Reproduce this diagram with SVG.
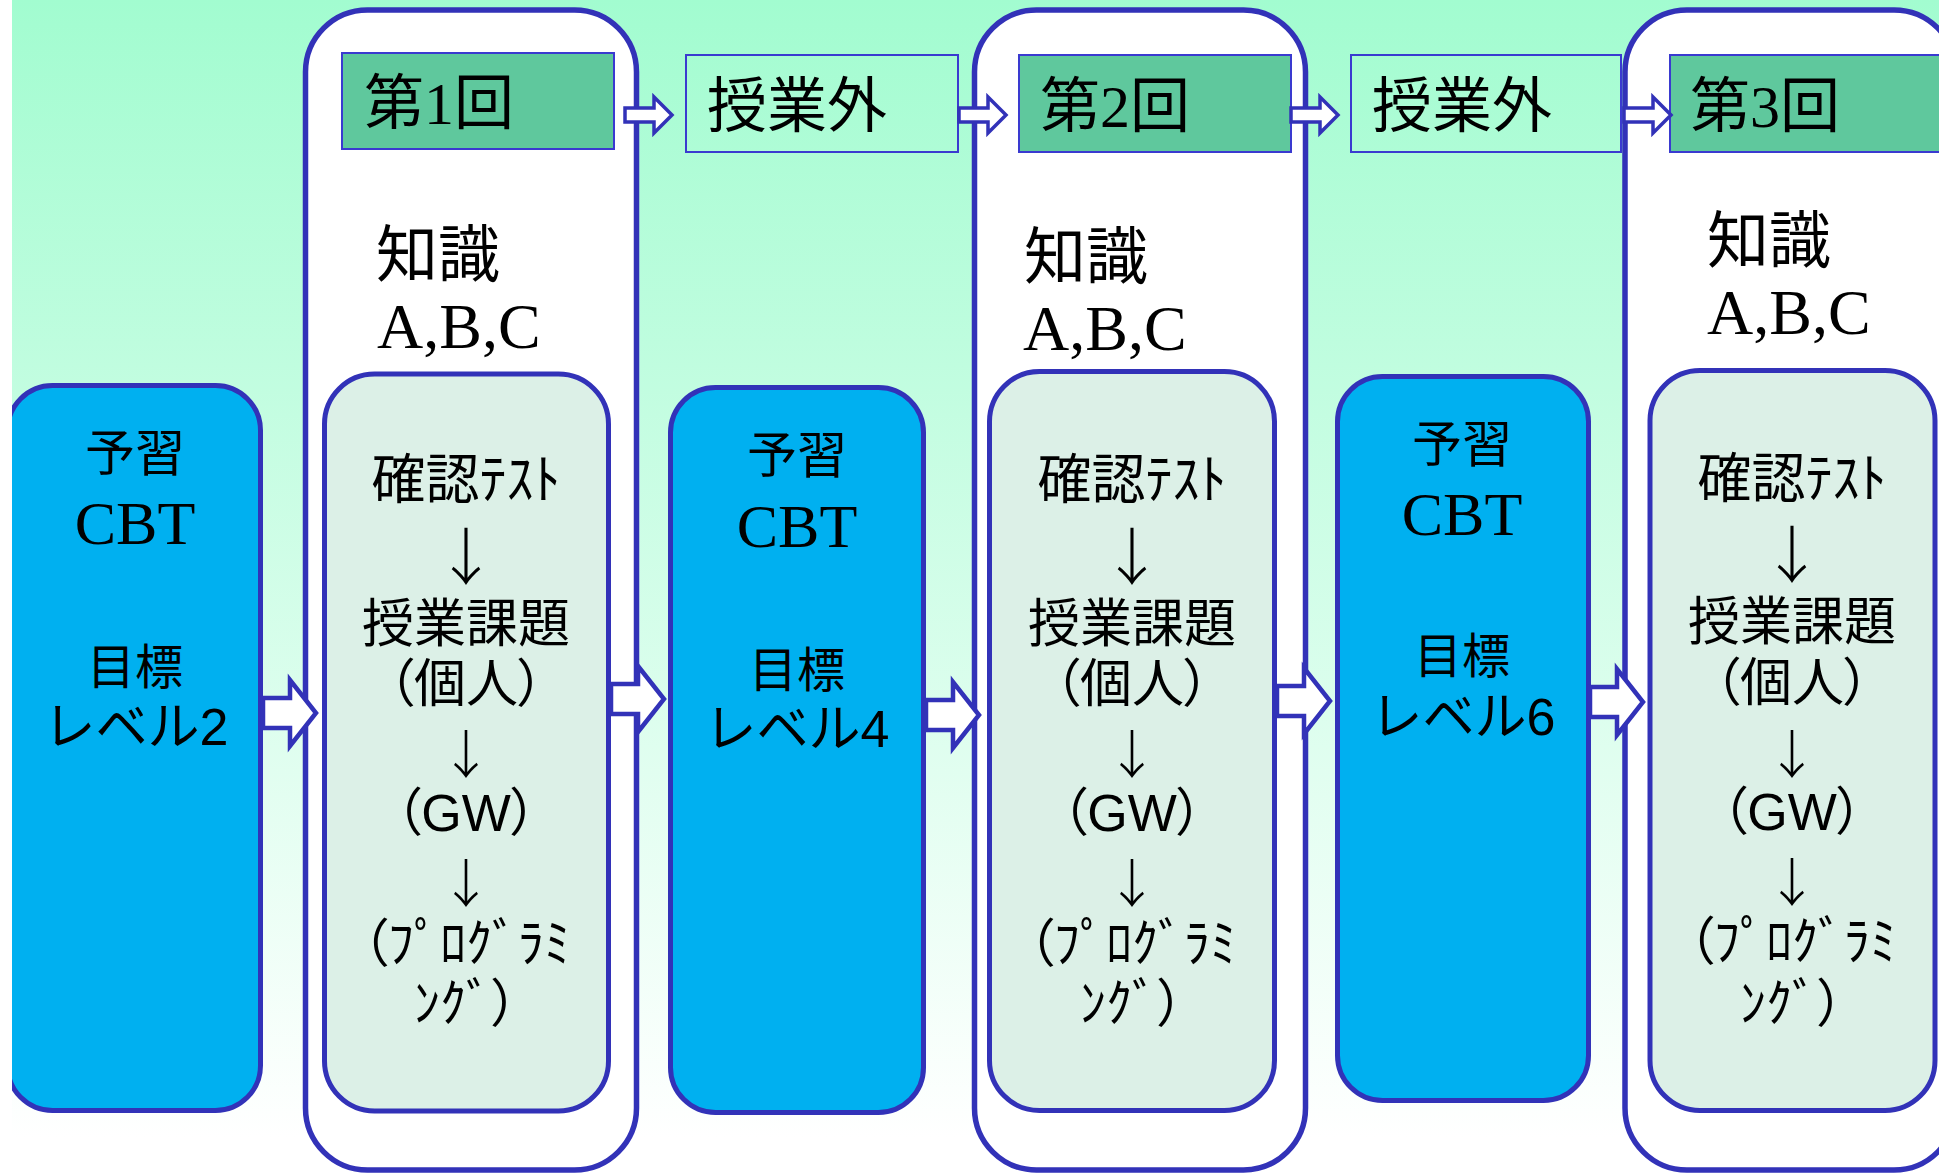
<svg xmlns="http://www.w3.org/2000/svg" xmlns:xlink="http://www.w3.org/1999/xlink" width="1939" height="1176" viewBox="0 0 1939 1176">
<defs>
<linearGradient id="bg" x1="0" y1="0" x2="0" y2="1">
<stop offset="0" stop-color="#a2fcd0"/>
<stop offset="1" stop-color="#ffffff"/>
</linearGradient>
<clipPath id="clip"><rect x="12" y="0" width="1927" height="1176"/></clipPath>
<style>
.c{fill:#ffffff;stroke:#3232b8;stroke-width:5.5}
.hg{fill:#5fc89d;stroke:#3a3ad0;stroke-width:2}
.ho{fill:none;stroke:#3a3ad0;stroke-width:2}
.in{fill:#dcf0e7;stroke:#3232b8;stroke-width:5}
.bl{fill:#00b0f0;stroke:#3232b8;stroke-width:5}
.ar{fill:#ffffff;stroke:#3232b8;stroke-width:4.5;stroke-linejoin:miter}
.as{fill:#ffffff;stroke:#3232b8;stroke-width:3.5;stroke-linejoin:miter}
text{fill:#000000}
.hd{font-family:"Liberation Serif","Noto Sans CJK JP",serif;font-size:60px}
.kn{font-family:"Liberation Serif","Noto Sans CJK JP",serif;font-size:62px}
.abc{font-family:"Liberation Serif",serif;font-size:64px}
.pv{font-family:"Noto Sans CJK JP",sans-serif;font-size:50px;text-anchor:middle}
.cbt{font-family:"Liberation Serif",serif;font-size:62px;text-anchor:middle}
.goal{font-family:"Liberation Sans","Noto Sans CJK JP",sans-serif;font-size:48px;text-anchor:middle}
.lv{font-size:52px}
.it{font-family:"Liberation Sans","Noto Sans CJK JP",sans-serif;font-size:52px;text-anchor:middle}
.ck{font-size:54px}
.pl{font-feature-settings:"palt"}
.dn{font-family:"Noto Sans CJK JP",sans-serif;font-weight:300;text-anchor:middle}
.d1{font-size:62px}
.d2{font-size:52px}
</style>
<polygon id="ba" class="ar" points="0,-15 27,-15 27,-33 53,0 27,33 27,15 0,15"/>
<polygon id="sa" class="as" points="0,-7 29,-7 29,-18 47,0 29,18 29,7 0,7"/>
</defs>
<g clip-path="url(#clip)">
<rect x="12" y="0" width="1927" height="1137" fill="url(#bg)"/>

<g id="session-1">
<rect class="c" x="305.5" y="10" width="331" height="1160" rx="62"/>
<text class="kn" x="376" y="277">知識</text>
<text class="abc" x="377" y="348">A,B,C</text>
</g>
<g id="session-2">
<rect class="c" x="974.5" y="10" width="331" height="1160" rx="62"/>
<text class="kn" x="1024" y="279">知識</text>
<text class="abc" x="1023" y="350">A,B,C</text>
</g>
<g id="session-3">
<rect class="c" x="1625" y="10" width="331" height="1160" rx="62"/>
<text class="kn" x="1707" y="263">知識</text>
<text class="abc" x="1707" y="334">A,B,C</text>
</g>

<g id="header-1">
<rect class="hg" x="342" y="53" width="272" height="96"/>
<text class="hd" x="364" y="124">第1回</text>
</g>
<g id="outside-1">
<rect class="ho" x="686" y="55" width="272" height="97"/>
<text class="hd" x="707" y="127">授業外</text>
</g>
<g id="header-2">
<rect class="hg" x="1019" y="55" width="272" height="97"/>
<text class="hd" x="1040" y="127">第2回</text>
</g>
<g id="outside-2">
<rect class="ho" x="1351" y="55" width="270" height="97"/>
<text class="hd" x="1372" y="127">授業外</text>
</g>
<g id="header-3">
<rect class="hg" x="1670" y="55" width="290" height="97"/>
<text class="hd" x="1690" y="127">第3回</text>
</g>

<g id="class-1">
<rect class="in" x="324.5" y="374" width="284" height="737" rx="50"/>
<text class="it ck" x="466" y="499">確認ﾃｽﾄ</text>
<text class="dn d1" x="466" y="580">↓</text>
<text class="it" x="466" y="642">授業課題</text>
<text class="it pl" x="466" y="702">（個人）</text>
<text class="dn d2" x="466" y="774">↓</text>
<text class="it pl" x="466" y="831">（GW）</text>
<text class="dn d2" x="466" y="903">↓</text>
<text class="it pl" x="466" y="962">（ﾌﾟﾛｸﾞﾗﾐ</text>
<text class="it pl" x="466" y="1022">ﾝｸﾞ）</text>
</g>
<g id="class-2">
<rect class="in" x="989.5" y="371.5" width="285" height="739" rx="50"/>
<text class="it ck" x="1132" y="499">確認ﾃｽﾄ</text>
<text class="dn d1" x="1132" y="580">↓</text>
<text class="it" x="1132" y="642">授業課題</text>
<text class="it pl" x="1132" y="702">（個人）</text>
<text class="dn d2" x="1132" y="774">↓</text>
<text class="it pl" x="1132" y="831">（GW）</text>
<text class="dn d2" x="1132" y="903">↓</text>
<text class="it pl" x="1132" y="962">（ﾌﾟﾛｸﾞﾗﾐ</text>
<text class="it pl" x="1132" y="1022">ﾝｸﾞ）</text>
</g>
<g id="class-3">
<rect class="in" x="1650" y="370.5" width="285" height="740" rx="50"/>
<text class="it ck" x="1792" y="498">確認ﾃｽﾄ</text>
<text class="dn d1" x="1792" y="578">↓</text>
<text class="it" x="1792" y="640">授業課題</text>
<text class="it pl" x="1792" y="701">（個人）</text>
<text class="dn d2" x="1792" y="774">↓</text>
<text class="it pl" x="1792" y="830">（GW）</text>
<text class="dn d2" x="1792" y="902">↓</text>
<text class="it pl" x="1792" y="960">（ﾌﾟﾛｸﾞﾗﾐ</text>
<text class="it pl" x="1792" y="1022">ﾝｸﾞ）</text>
</g>

<g id="prep-1">
<rect class="bl" x="7.5" y="385.5" width="253" height="725" rx="45"/>
<text class="pv" x="135" y="471">予習</text>
<text class="cbt" x="135" y="544">CBT</text>
<text class="goal" x="135" y="684">目標</text>
<text class="goal lv" x="136" y="745">レベル2</text>
</g>
<g id="prep-2">
<rect class="bl" x="670.5" y="387.5" width="253" height="725" rx="45"/>
<text class="pv" x="797" y="473">予習</text>
<text class="cbt" x="797" y="547">CBT</text>
<text class="goal" x="797" y="687">目標</text>
<text class="goal lv" x="797" y="747">レベル4</text>
</g>
<g id="prep-3">
<rect class="bl" x="1337.5" y="376.5" width="251" height="724" rx="45"/>
<text class="pv" x="1462" y="462">予習</text>
<text class="cbt" x="1462" y="535">CBT</text>
<text class="goal" x="1462" y="673">目標</text>
<text class="goal lv" x="1463" y="735">レベル6</text>
</g>

<g id="connectors">
<use xlink:href="#sa" transform="translate(625,115)"/>
<use xlink:href="#sa" transform="translate(959,115)"/>
<use xlink:href="#sa" transform="translate(1291,115)"/>
<use xlink:href="#sa" transform="translate(1624,115)"/>
<use xlink:href="#ba" transform="translate(263,713)"/>
<use xlink:href="#ba" transform="translate(611,699)"/>
<use xlink:href="#ba" transform="translate(926,715)"/>
<use xlink:href="#ba" transform="translate(1277,701)"/>
<use xlink:href="#ba" transform="translate(1590,702)"/>
</g>
</g>
</svg>
